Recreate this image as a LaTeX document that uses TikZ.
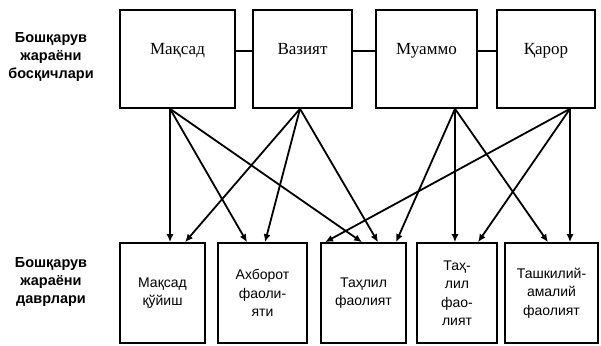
\documentclass[tikz,border=0pt]{standalone}
\usepackage{fontspec}
\setmainfont{Liberation Serif}
\setsansfont{Liberation Sans}
\usetikzlibrary{arrows.meta}

\begin{document}
\begin{tikzpicture}[x=1pt, y=-1pt,
    stage/.style ={rectangle, draw, line width=1.6pt, minimum height=98pt,
      text height=12pt, text depth=22pt, font=\fontsize{17}{19}\selectfont},
    period/.style ={rectangle, draw, line width=1.6pt, minimum height=100pt,
      align=center, font=\sffamily\fontsize{14}{18.5}\selectfont},
    heading/.style ={align=center, font=\sffamily\bfseries\fontsize{14.5}{18}\selectfont},
    flow/.style ={line width=1.8pt, -{Latex[length=8pt,width=7pt]}}]
   \useasboundingbox (0,0) rectangle (601,345);
   \node[heading] (H1) at (51,57) {Бошқарув\\жараёни\\босқичлари};
   \node[heading] (H2) at (51,282) {Бошқарув\\жараёни\\даврлари};
   \node[stage, minimum width=115pt] (S1) at (177.5,59) {Мақсад};
   \node[stage, minimum width=99pt] (S2) at (302.5,59) {Вазият};
   \node[stage, minimum width=101pt] (S3) at (426.5,59) {Муаммо};
   \node[stage, minimum width=98pt] (S4) at (546,59) {Қарор};
   \node[period, minimum width=85pt] (P1) at (162.5,293) {Мақсад\\қўйиш};
   \node[period, minimum width=89pt] (P2) at (262.5,293) {Ахборот\\фаоли-\\яти};
   \node[period, minimum width=85pt] (P3) at (363.5,293) {Таҳлил\\фаолият};
   \node[period, minimum width=80pt] (P4) at (457,293) {Таҳ-\\лил\\фао-\\лият};
   \node[period, minimum width=93pt] (P5) at (551.5,293) {Ташкилий-\\амалий\\фаолият};
   \draw[line width=1.6pt] ([yshift=8pt]S1.east) to ([yshift=8pt]S2.west);
   \draw[line width=1.6pt] ([yshift=8pt]S2.east) to ([yshift=8pt]S3.west);
   \draw[line width=1.6pt] ([yshift=8pt]S3.east) to ([yshift=8pt]S4.west);
   \draw[flow] ([xshift=-7.5pt]S1.south) to ([xshift=7.5pt]P1.north);
   \draw[flow] ([xshift=-7.5pt]S1.south) to ([xshift=-15.5pt]P2.north);
   \draw[flow] ([xshift=-7.5pt]S1.south) to ([xshift=-1.5pt]P3.north);
   \draw[flow] ([xshift=-2.5pt]S2.south) to ([xshift=22.5pt]P1.north);
   \draw[flow] ([xshift=-2.5pt]S2.south) to ([xshift=2.5pt]P2.north);
   \draw[flow] ([xshift=-2.5pt]S2.south) to ([xshift=14.5pt]P3.north);
   \draw[flow] ([xshift=28.5pt]S3.south) to ([xshift=32.5pt]P3.north);
   \draw[flow] ([xshift=28.5pt]S3.south) to ([xshift=-2pt]P4.north);
   \draw[flow] ([xshift=28.5pt]S3.south) to ([xshift=-3.5pt]P5.north);
   \draw[flow] ([xshift=24pt]S4.south) to ([xshift=-38.5pt]P3.north);
   \draw[flow] ([xshift=24pt]S4.south) to ([xshift=21pt]P4.north);
   \draw[flow] ([xshift=24pt]S4.south) to ([xshift=18.5pt]P5.north);
\end{tikzpicture}
\end{document}
